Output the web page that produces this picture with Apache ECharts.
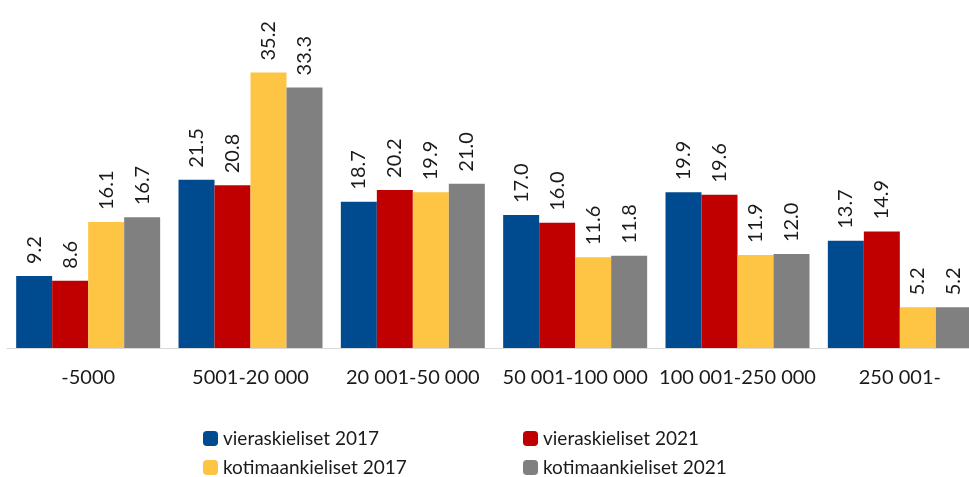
<!DOCTYPE html>
<html>
<head>
<meta charset="utf-8">
<script src="https://cdn.jsdelivr.net/npm/echarts@6/dist/echarts.min.js"></script>
<style>
html,body{margin:0;padding:0;background:#fff;}
#chart{width:969px;height:477px;}
</style>
</head>
<body>
<div id="chart"></div>
<script>
var categories = ['-5000', '5001-20 000', '20 001-50 000', '50 001-100 000', '100 001-250 000', '250 001-'];
var vieras2017 = [9.2, 21.5, 18.7, 17.0, 19.9, 13.7];
var vieras2021 = [8.6, 20.8, 20.2, 16.0, 19.6, 14.9];
var kotim2017 = [16.1, 35.2, 19.9, 11.6, 11.9, 5.2];
var kotim2021 = [16.7, 33.3, 21.0, 11.8, 12.0, 5.2];

var font = 'Lato';
var myChart = echarts.init(document.getElementById('chart'));

function bar(name, data, color) {
	return {
		type: 'bar',
		name: name,
		data: data,
		barGap: '0%',
		barCategoryGap: '11.3%',
		itemStyle: { color: color },
		label: {
			show: true,
			position: 'top',
			rotate: 90,
			align: 'left',
			verticalAlign: 'middle',
			distance: 12,
			fontFamily: font,
			fontSize: 20,
			color: '#1a1a1a',
			formatter: function (p) { return p.value.toFixed(1); }
		}
	};
}

var legendText = { fontFamily: font, fontSize: 19, color: '#1a1a1a' };

var option = {
	animation: false,
	color: ['#004a8f', '#c00000', '#fdc543', '#808080'],
	grid: { left: 7, width: 974, top: 35, height: 313, outerBoundsMode: 'none' },
	legend: [{
		data: ['vieraskieliset 2017', 'kotimaankieliset 2017'],
		orient: 'vertical',
		left: 198,
		top: 424,
		height: 80,
		itemWidth: 15,
		itemHeight: 15,
		itemGap: 10,
		textStyle: legendText
	}, {
		data: ['vieraskieliset 2021', 'kotimaankieliset 2021'],
		orient: 'vertical',
		left: 518,
		top: 424,
		height: 80,
		itemWidth: 15,
		itemHeight: 15,
		itemGap: 10,
		textStyle: legendText
	}],
	xAxis: {
		type: 'category',
		data: categories,
		axisTick: { show: false },
		axisLine: { lineStyle: { color: '#d9d9d9', width: 1 } },
		axisLabel: { interval: 0, fontFamily: font, fontSize: 20, color: '#1a1a1a', margin: 20 }
	},
	yAxis: {
		type: 'value',
		min: 0,
		max: 40,
		show: false
	},
	series: [
		bar('vieraskieliset 2017', vieras2017, '#004a8f'),
		bar('vieraskieliset 2021', vieras2021, '#c00000'),
		bar('kotimaankieliset 2017', kotim2017, '#fdc543'),
		bar('kotimaankieliset 2021', kotim2021, '#808080')
	]
};
myChart.setOption(option);
</script>
</body>
</html>
